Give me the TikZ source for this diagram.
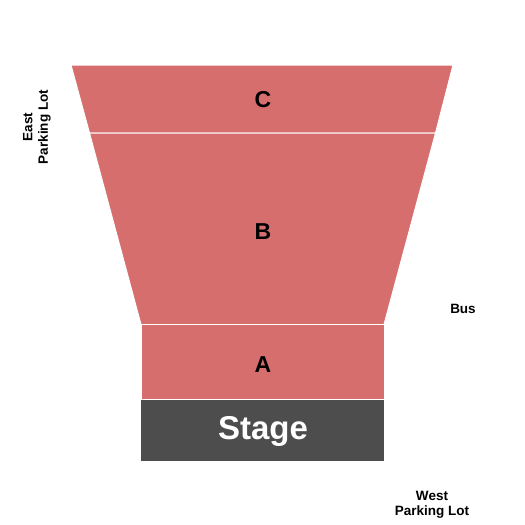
\documentclass[tikz,border=0pt]{standalone}
\usepackage{fontspec}
\setmainfont{Liberation Sans}
\definecolor{seatred}{RGB}{214,110,110}
\definecolor{stagegray}{RGB}{77,77,77}
\begin{document}
\begin{tikzpicture}[x=1pt, y=-1pt,
	section/.style={fill=seatred, draw=white, line width=1pt},
	seclabel/.style={font=\fontsize{23}{23}\selectfont\bfseries},
	sidelabel/.style={font=\fontsize{13.5}{15.5}\selectfont\bfseries, align=center}]
	\useasboundingbox (0,0) rectangle (525,525);

	% sections, back to front
	\filldraw[section] (71,65) -- (453,65) -- (435.5,133) -- (89.5,133) -- cycle;
	\filldraw[section] (89.5,133) -- (435.5,133) -- (384,324.5) -- (141,324.5) -- cycle;
	\filldraw[section] (141,324.5) rectangle (384,399);
	\fill[stagegray] (141,399.5) rectangle (384,461);

	\node[seclabel] (C) at (263,100) {C};
	\node[seclabel] (B) at (263,232) {B};
	\node[seclabel] (A) at (263,365) {A};
	\node[font=\fontsize{33}{33}\selectfont\bfseries, text=white] (stage) at (263,431) {Stage};

	\node[sidelabel, rotate=90] (east) at (37,127) {East\\Parking Lot};
	\node[sidelabel] (bus) at (463,309) {Bus};
	\node[sidelabel] (west) at (432,505) {West\\Parking Lot};
\end{tikzpicture}
\end{document}
